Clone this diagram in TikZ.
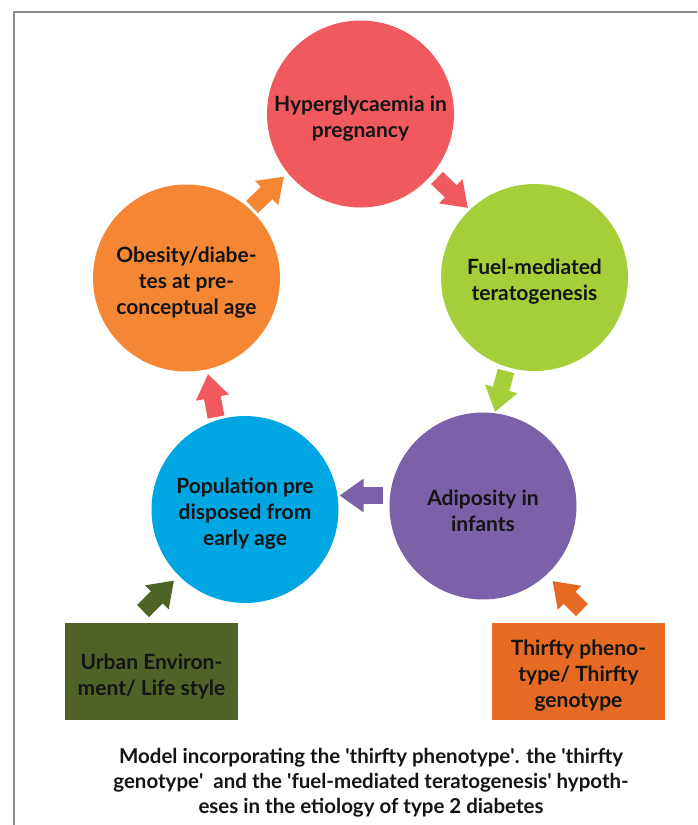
\documentclass[tikz,border=0pt]{standalone}
\usepackage{fontspec}
\setmainfont{Lato}
\usetikzlibrary{arrows.meta}

\definecolor{ink}{HTML}{141414}
\definecolor{framegray}{HTML}{8C8C8C}
\definecolor{cred}{HTML}{F05A5E}
\definecolor{cgreen}{HTML}{A6CE39}
\definecolor{corange}{HTML}{F58634}
\definecolor{cblue}{HTML}{00A6E2}
\definecolor{cpurple}{HTML}{7B61A8}
\definecolor{colive}{HTML}{4F6228}
\definecolor{cbrown}{HTML}{E66A23}

\newcommand{\sq}{\textquotesingle}

\begin{document}
\begin{tikzpicture}[x=1pt,y=-1pt,
  stage/.style={circle, minimum size=187pt, inner sep=0pt},
  factor/.style={rectangle, minimum width=173pt, minimum height=97pt, inner sep=0pt},
  inscription/.style={align=center, inner sep=0pt, text=ink,
    font=\fontsize{21}{26}\selectfont\bfseries},
  flow/.style={line width=17pt, line cap=butt,
    -{Triangle[length=24pt,width=32pt]}},
  frameline/.style={draw=framegray, line width=2pt},
]
\useasboundingbox (0,0) rectangle (697,825);

% page frame
\draw[frameline] (14,825) -- (14,12) -- (697,12);

% cycle stages
\node[stage, fill=cred]    (hyper)   at (360.5,114)   {};
\node[stage, fill=cgreen]  (fuel)    at (534.5,277.5) {};
\node[stage, fill=cpurple] (adipo)   at (483,506)     {};
\node[stage, fill=cblue]   (popul)   at (245,509.5)   {};
\node[stage, fill=corange] (obesity) at (186.5,278)   {};

% external factors
\node[factor, fill=colive] (urban)  at (151.5,671.5) {};
\node[factor, fill=cbrown] (thrift) at (578.5,671)   {};

% texts, set a little below the centre of each shape
\node[inscription] (hyperT)   at ([yshift=-4.5pt]hyper.center)   {Hyperglycaemia in\\pregnancy};
\node[inscription] (fuelT)    at ([yshift=-4.5pt]fuel.center)    {Fuel-mediated\\teratogenesis};
\node[inscription] (adipoT)   at ([yshift=-4.5pt]adipo.center)   {Adiposity in\\infants};
\node[inscription] (populT)   at ([yshift=-4.5pt]popul.center)   {Population pre\\disposed from\\early age};
\node[inscription] (obesityT) at ([yshift=-4.5pt]obesity.center) {Obesity/diabe-\\tes at pre-\\conceptual age};
\node[inscription] (urbanT)   at ([yshift=-4.5pt]urban.center)   {Urban Environ-\\ment/ Life style};
\node[inscription] (thriftT)  at ([yshift=-5pt]thrift.center)    {Thirfty pheno-\\type/ Thirfty\\genotype};

% block arrows of the cycle
\draw[flow, draw=corange, fill=corange] ([shift={(65.5,-71)}]obesity.center) -- ([shift={(-76.5,62.5)}]hyper.center);
\draw[flow, draw=cred, fill=cred]       ([shift={(76.5,64)}]hyper.center)    -- ([shift={(-66.5,-69.5)}]fuel.center);
\draw[flow, draw=cgreen, fill=cgreen]   ([shift={(-28.5,93.5)}]fuel.center)  -- ([shift={(12,-94)}]adipo.center);
\draw[flow, draw=cpurple, fill=cpurple] ([shift={(-100,-10.5)}]adipo.center) -- ([shift={(94.5,-14)}]popul.center);
\draw[flow, draw=cred, fill=cred]       ([shift={(-29,-92.5)}]popul.center)  -- ([shift={(21.5,96)}]obesity.center);

% arrows from the external factors
\draw[flow, draw=colive, fill=colive] ([shift={(-8.5,-60.5)}]urban.center) -- ([shift={(-71,71)}]popul.center);
\draw[flow, draw=cbrown, fill=cbrown] ([shift={(3.5,-61)}]thrift.center)  -- ([shift={(69.5,75)}]adipo.center);

% caption
\node[align=center, text=ink, font=\fontsize{20.5}{25}\selectfont\bfseries] (caption) at (371,783)
  {Model incorporating the \sq thirfty phenotype\sq. the \sq thirfty\\
   genotype\sq\ \ and the \sq fuel-mediated teratogenesis\sq\ hypoth-\\
   eses in the etiology of type 2 diabetes};
\end{tikzpicture}
\end{document}
